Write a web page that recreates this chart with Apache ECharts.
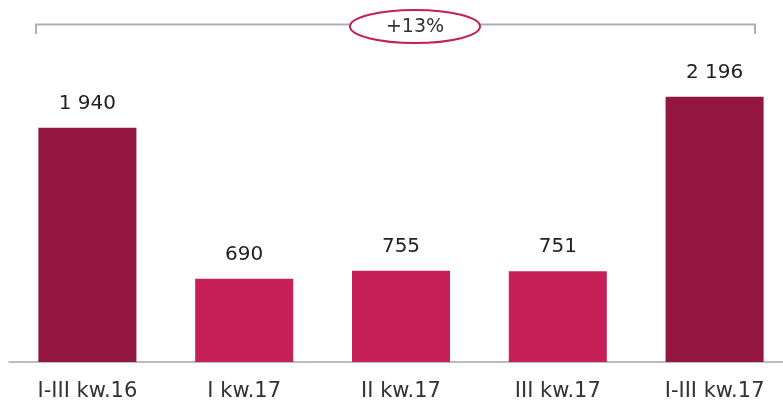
<!DOCTYPE html>
<html>
<head>
<meta charset="utf-8">
<script src="https://cdn.jsdelivr.net/npm/echarts@6/dist/echarts.min.js"></script>
<style>
  html, body { margin: 0; padding: 0; background: #fff; overflow: hidden; }
  /* a bit wider than the window: the last bar's slot runs past the right edge */
  #chart { width: 800px; height: 406px; }
</style>
</head>
<body>
<div id="chart"></div>
<script>
const categories = ['I-III kw.16', 'I kw.17', 'II kw.17', 'III kw.17', 'I-III kw.17']
const values = [1940, 690, 755, 751, 2196]
const growthLabel = '+13%'

const darkColor = '#931641'
const lightColor = '#c71f57'
const fontFamily = '"DejaVu Sans", sans-serif'

// 1940 -> "1 940"
function fmt(v) {
  return String(v).replace(/\B(?=(\d{3})+(?!\d))/g, ' ')
}

const chart = echarts.init(document.getElementById('chart'))

chart.setOption({
  animation: false,
  grid: {
    left: 9,
    width: 784,
    top: 60,
    bottom: 44,
    containLabel: false
  },
  xAxis: {
    type: 'category',
    data: categories,
    axisLine: { lineStyle: { color: '#a6a6a6', width: 1.5 } },
    axisTick: { show: false },
    axisLabel: {
      color: '#333',
      fontSize: 21,
      fontFamily: fontFamily,
      margin: 19
    }
  },
  yAxis: {
    type: 'value',
    min: 0,
    max: 2500,
    show: false,
    splitLine: { show: false }
  },
  series: [{
    type: 'bar',
    data: values,
    barWidth: 98,
    itemStyle: {
      color: p => (p.name.indexOf('I-III') === 0 ? darkColor : lightColor)
    },
    label: {
      show: true,
      position: 'top',
      distance: 14,
      color: '#222',
      fontSize: 20,
      fontFamily: fontFamily,
      formatter: p => fmt(p.value)
    }
  }],
  graphic: [
    {
      type: 'polyline',
      shape: { points: [[36, 34], [36, 24.5], [755, 24.5], [755, 34]] },
      style: { stroke: '#a9b1b7', lineWidth: 2, fill: null }
    },
    {
      type: 'ellipse',
      shape: { cx: 415, cy: 26.5, rx: 65, ry: 16.5 },
      style: { stroke: '#c41f57', lineWidth: 2, fill: '#fff' }
    },
    {
      type: 'text',
      x: 415,
      y: 27,
      style: {
        text: growthLabel,
        fill: '#333',
        fontSize: 19,
        fontFamily: fontFamily,
        align: 'center',
        verticalAlign: 'middle'
      }
    }
  ]
})
</script>
</body>
</html>
